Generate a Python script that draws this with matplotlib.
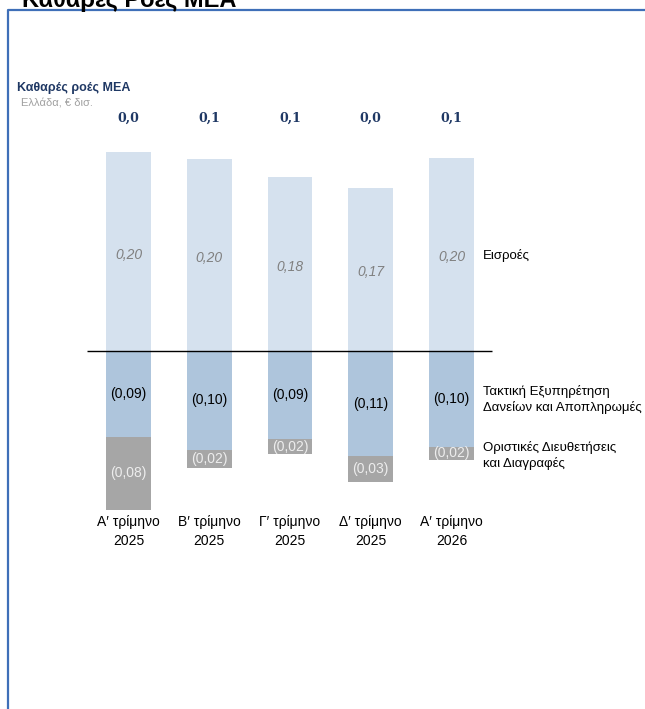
import matplotlib
matplotlib.use("Agg")
import matplotlib.pyplot as plt
from matplotlib.lines import Line2D
import numpy as np

plt.rcParams["font.family"] = ["Liberation Sans", "DejaVu Sans"]

quarters = ["Α\u2032 τρίμηνο\n2025", "Β\u2032 τρίμηνο\n2025", "Γ\u2032 τρίμηνο\n2025",
            "Δ\u2032 τρίμηνο\n2025", "Α\u2032 τρίμηνο\n2026"]
inflows = [0.200, 0.193, 0.175, 0.164, 0.194]
servicing = [0.086, 0.099, 0.088, 0.106, 0.096]
writeoffs = [0.074, 0.019, 0.016, 0.026, 0.014]
inflow_labels = ["0,20", "0,20", "0,18", "0,17", "0,20"]
servicing_labels = ["(0,09)", "(0,10)", "(0,09)", "(0,11)", "(0,10)"]
writeoff_labels = ["(0,08)", "(0,02)", "(0,02)", "(0,03)", "(0,02)"]
net_labels = ["0,0", "0,1", "0,1", "0,0", "0,1"]
series_names = ["Εισροές", "Τακτική Εξυπηρέτηση\nΔανείων και Αποπληρωμές",
                "Οριστικές Διευθετήσεις\nκαι Διαγραφές"]

W, H = 645, 709
C_IN = "#D5E1EE"
C_SERV = "#AEC5DC"
C_WO = "#A6A6A6"
NAVY = "#1F3864"


def px(x, y):
    return x / W, 1 - y / H


fig = plt.figure(figsize=(W / 100, H / 100), dpi=100)
ax = fig.add_axes([0, 0, 1, 1])
ax.set_xlim(-1.591, 6.396)
ax.set_ylim(-0.3598, 0.3528)
ax.axis("off")

x = np.arange(len(quarters))
bw = 0.557
inflows = np.array(inflows)
servicing = np.array(servicing)
writeoffs = np.array(writeoffs)

ax.bar(x, inflows, bw, color=C_IN)
ax.bar(x, -servicing, bw, color=C_SERV)
ax.bar(x, -writeoffs, bw, bottom=-servicing, color=C_WO)
ax.hlines(0, -0.514, 4.5, color="black", lw=1)

for i in x:
    ax.text(i, inflows[i] / 2 - 0.003, inflow_labels[i], ha="center", va="center",
            fontsize=10, style="italic", color="#808080")
    ax.text(i, -servicing[i] / 2, servicing_labels[i], ha="center", va="center",
            fontsize=10, color="black")
    ax.text(i, -servicing[i] - writeoffs[i] / 2, writeoff_labels[i], ha="center",
            va="center", fontsize=10, color="#EDEDED")
    ax.text(i, -0.165, quarters[i], ha="center", va="top", fontsize=10,
            linespacing=1.4, color="black")

# net flows on top
for i in x:
    xf, yf = px(128.5 + 80.75 * i, 118)
    fig.text(xf, yf, net_labels[i], ha="center", va="center", fontsize=9,
             fontweight="bold", family="DejaVu Serif", color=NAVY)

# series labels on the right
for name, yy in zip(series_names, [256, 399, 456]):
    fig.text(*px(483, yy), name, ha="left", va="center", fontsize=9.5,
             linespacing=1.3, color="black")

fig.text(*px(17, 88), "Καθαρές ροές ΜΕΑ", ha="left", va="center", fontsize=9,
         fontweight="bold", color=NAVY)
fig.text(*px(21, 104), "Ελλάδα, € δισ.", ha="left", va="center", fontsize=8,
         color="#A0A0A0")
fig.text(*px(22, 7), "Καθαρές Ροές ΜΕΑ", ha="left", va="baseline", fontsize=17,
         fontweight="bold", color="black")

# frame
fig.add_artist(Line2D([7.5 / W, 7.5 / W, 1], [0, 1 - 10 / H, 1 - 10 / H],
                      transform=fig.transFigure, color="#3F6FB8", lw=1.6))

fig.savefig("out.png", dpi=100)
